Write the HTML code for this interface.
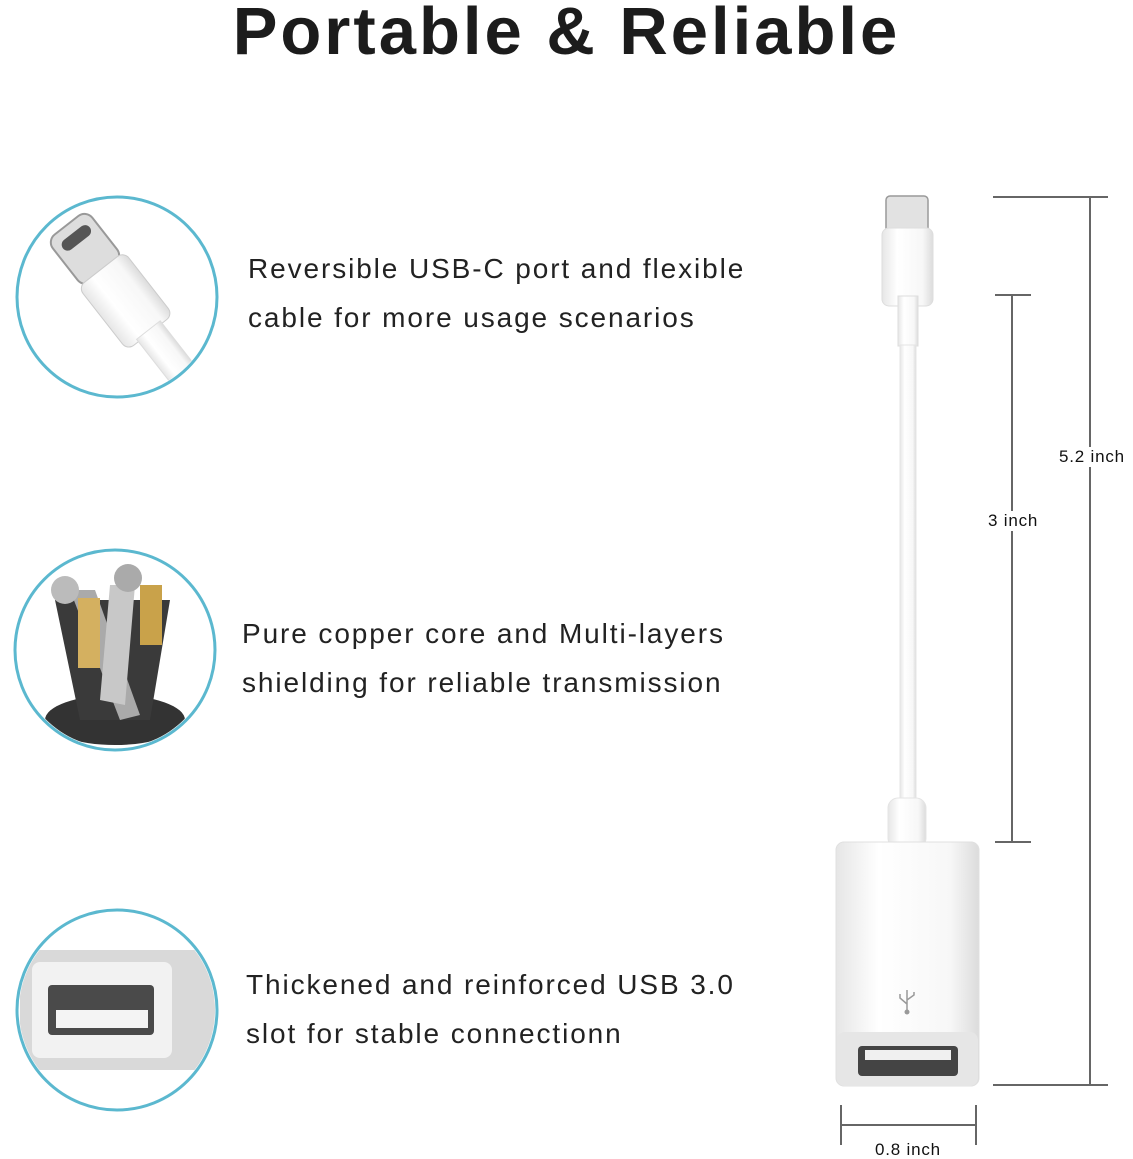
<!DOCTYPE html>
<html><head><meta charset="utf-8"><style>
body{margin:0;background:#fff;}
.w{position:relative;width:1133px;height:1159px;overflow:hidden;font-family:"Liberation Sans",sans-serif;}
.t{position:absolute;left:0;width:1133px;text-align:center;top:-3px;line-height:70px;font-size:67px;font-weight:bold;color:#1c1c1c;letter-spacing:3px}
.p{position:absolute;font-size:28px;line-height:49px;color:#222;letter-spacing:1.9px;white-space:nowrap}
.l{position:absolute;font-size:17px;color:#111;background:#fff;padding:0 2px;letter-spacing:0.8px}
</style></head><body><div class="w">
<div class="t">Portable &amp; Reliable</div>
<svg width="1133" height="1159" style="position:absolute;left:0;top:0">
<defs>
<linearGradient id="g" x1="0" x2="1"><stop offset="0" stop-color="#e6e6e6"/><stop offset=".3" stop-color="#fff"/><stop offset=".8" stop-color="#f7f7f7"/><stop offset="1" stop-color="#dcdcdc"/></linearGradient>
<clipPath id="c1"><circle cx="117" cy="297" r="98"/></clipPath>
<clipPath id="c2"><circle cx="115" cy="650" r="98"/></clipPath>
<clipPath id="c3"><circle cx="117" cy="1010" r="98"/></clipPath>
</defs>
<circle cx="117" cy="297" r="100" fill="#fff" stroke="#5bb8cf" stroke-width="3"/>
<g clip-path="url(#c1)">
<g transform="rotate(-38 100 260)">
<rect x="70" y="212" width="50" height="60" rx="10" fill="#ddd" stroke="#999" stroke-width="2"/>
<rect x="78" y="222" width="34" height="12" rx="6" fill="#555"/>
<rect x="66" y="268" width="58" height="80" rx="8" fill="url(#g)" stroke="#ccc"/>
<rect x="80" y="345" width="30" height="90" fill="url(#g)" stroke="#ddd"/>
</g></g>
<circle cx="115" cy="650" r="100" fill="#fff" stroke="#5bb8cf" stroke-width="3"/>
<g clip-path="url(#c2)">
<ellipse cx="115" cy="720" rx="70" ry="25" fill="#333"/>
<path d="M55 600 L80 720 L150 720 L170 600 Z" fill="#3a3a3a"/>
<path d="M70 590 L120 720 L140 715 L95 590 Z" fill="#aaa"/>
<path d="M110 585 L100 700 L125 705 L135 585Z" fill="#c8c8c8"/>
<rect x="78" y="598" width="22" height="70" fill="#d4b060"/>
<rect x="140" y="585" width="22" height="60" fill="#c9a24a"/>
<circle cx="65" cy="590" r="14" fill="#bbb"/>
<circle cx="128" cy="578" r="14" fill="#aaa"/>
</g>
<circle cx="117" cy="1010" r="100" fill="#fff" stroke="#5bb8cf" stroke-width="3"/>
<g clip-path="url(#c3)">
<rect x="20" y="950" width="200" height="120" rx="14" fill="#d9d9d9"/>
<rect x="32" y="962" width="140" height="96" rx="8" fill="#f2f2f2"/>
<rect x="48" y="985" width="106" height="50" rx="4" fill="#4a4a4a"/>
<rect x="56" y="1010" width="92" height="18" fill="#f4f4f4"/>
</g>
<rect x="886" y="196" width="42" height="36" rx="4" fill="#e2e2e2" stroke="#999" stroke-width="1.5"/>
<rect x="882" y="228" width="51" height="78" rx="7" fill="url(#g)" stroke="#ddd"/>
<rect x="898" y="296" width="20" height="50" fill="url(#g)" stroke="#ddd"/>
<rect x="900" y="345" width="16" height="460" fill="url(#g)" stroke="#e4e4e4"/>
<rect x="888" y="798" width="38" height="50" rx="10" fill="url(#g)" stroke="#e4e4e4"/>
<rect x="836" y="842" width="143" height="244" rx="8" fill="url(#g)" stroke="#e0e0e0"/>
<rect x="837" y="1032" width="141" height="54" rx="8" fill="#e6e6e6"/>
<rect x="858" y="1046" width="100" height="30" rx="4" fill="#444"/>
<rect x="865" y="1050" width="86" height="10" fill="#f0f0f0"/>
<g stroke="#999" stroke-width="1.5" fill="none"><path d="M907 990V1010M907 1004L900 998V994M907 1000L914 995V992"/></g>
<circle cx="907" cy="1012" r="2.5" fill="#999"/>
<g stroke="#666" stroke-width="2" fill="none">
<path d="M993 197H1108M1090 197V1085M993 1085H1108"/>
<path d="M995 295H1031M1012 295V842M995 842H1031"/>
<path d="M841 1105V1145M976 1105V1145M841 1125H976"/>
</g>
</svg>
<div class="p" style="left:248px;top:244px">Reversible USB-C port and flexible<br>cable for more usage scenarios</div>
<div class="p" style="left:242px;top:609px">Pure copper core and Multi-layers<br>shielding for reliable transmission</div>
<div class="p" style="left:246px;top:960px">Thickened and reinforced USB 3.0<br>slot for stable connectionn</div>
<div class="l" style="left:1057px;top:447px">5.2 inch</div>
<div class="l" style="left:986px;top:511px">3 inch</div>
<div class="l" style="left:873px;top:1140px">0.8 inch</div>
</div></body></html>
